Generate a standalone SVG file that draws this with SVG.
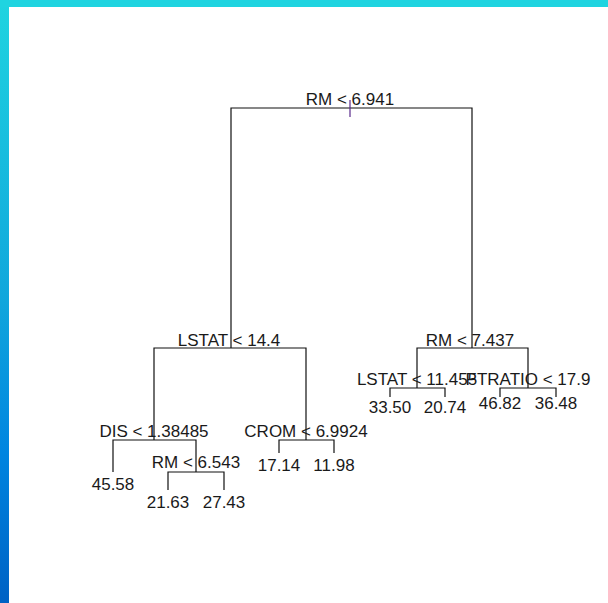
<svg xmlns="http://www.w3.org/2000/svg" width="608" height="603" viewBox="0 0 608 603">
  <defs>
    <linearGradient id="lg" x1="0" y1="0" x2="0" y2="1">
      <stop offset="0" stop-color="#1fd4e0"/>
      <stop offset="0.5" stop-color="#10a6dc"/>
      <stop offset="0.75" stop-color="#0085e0"/>
      <stop offset="1" stop-color="#0062c4"/>
    </linearGradient>
    <style>
      .t { font-family: "Liberation Sans", Arial, sans-serif; font-size: 17px; fill: #1a1a1a; text-anchor: middle; }
      .e { stroke: #111; stroke-width: 1.2; fill: none; }
    </style>
  </defs>
  <rect x="0" y="0" width="608" height="603" fill="#ffffff"/>
  <rect x="0" y="0" width="9" height="603" fill="url(#lg)"/>
  <rect x="0" y="0" width="608" height="7" fill="#1fd4e0"/>

  <g id="connectors">
    <path class="e" d="M231,348 V108 H472 V348"/>
    <path class="e" d="M154,440 V348 H306 V440"/>
    <path class="e" d="M417,388 V348 H528 V388"/>
    <path class="e" d="M390,397 V388 H445 V397"/>
    <path class="e" d="M500,397 V388 H556 V397"/>
    <path class="e" d="M113,472 V440 H196 V472"/>
    <path class="e" d="M168,490 V472 H224 V490"/>
    <path class="e" d="M279,453 V440 H334 V453"/>
    <line x1="350" y1="100" x2="350" y2="117" stroke="#5a2a8c" stroke-width="1.2"/>
  </g>

  <g id="n_root"><text class="t" x="350" y="105">RM &lt; 6.941</text></g>
  <g id="n_lstat144"><text class="t" x="229" y="346">LSTAT &lt; 14.4</text></g>
  <g id="n_rm7437"><text class="t" x="470" y="346">RM &lt; 7.437</text></g>
  <g id="n_lstat11455"><text class="t" x="417" y="385">LSTAT &lt; 11.455</text></g>
  <g id="n_ptratio"><text class="t" x="528" y="385">PTRATIO &lt; 17.9</text></g>
  <g id="n_dis"><text class="t" x="154" y="437">DIS &lt; 1.38485</text></g>
  <g id="n_rm6543"><text class="t" x="196" y="468">RM &lt; 6.543</text></g>
  <g id="n_crom"><text class="t" x="306" y="437">CROM &lt; 6.9924</text></g>

  <g id="l_3350"><text class="t" x="390" y="413">33.50</text></g>
  <g id="l_2074"><text class="t" x="445" y="413">20.74</text></g>
  <g id="l_4682"><text class="t" x="500" y="409">46.82</text></g>
  <g id="l_3648"><text class="t" x="556" y="409">36.48</text></g>
  <g id="l_4558"><text class="t" x="113" y="490">45.58</text></g>
  <g id="l_2163"><text class="t" x="168" y="508">21.63</text></g>
  <g id="l_2743"><text class="t" x="224" y="508">27.43</text></g>
  <g id="l_1714"><text class="t" x="279" y="471">17.14</text></g>
  <g id="l_1198"><text class="t" x="334" y="471">11.98</text></g>
</svg>
